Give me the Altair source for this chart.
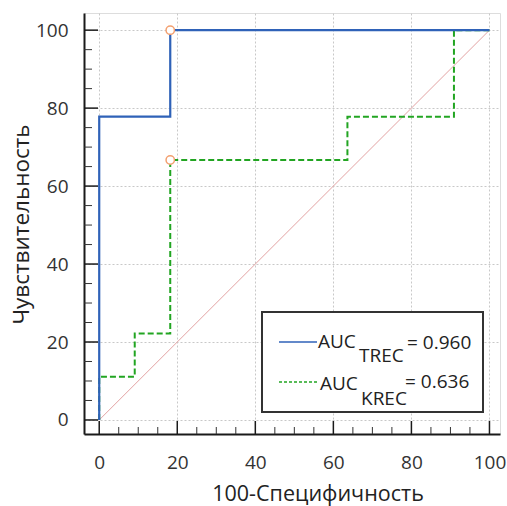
import altair as alt
import pandas as pd

# ROC data (100-specificity, sensitivity)
trec_fpr = [0, 0, 18.2, 100]
trec_tpr = [0, 77.8, 100, 100]
krec_fpr = [0, 0, 9.1, 18.2, 63.6, 90.9, 100]
krec_tpr = [0, 11.1, 22.2, 66.7, 77.8, 100, 100]
cut_fpr = [18.2, 18.2]
cut_tpr = [100, 66.7]
diag_vals = [0, 100]
major_ticks = [0, 20, 40, 60, 80, 100]
minor_ticks = [5, 10, 15, 25, 30, 35, 45, 50, 55, 65, 70, 75, 85, 90, 95]
auc_names = ["TREC", "KREC"]
auc_values = [0.960, 0.636]
x_title = "100-Специфичность"
y_title = "Чувствительность"

FONT = "Open Sans"
W, H = 416, 421

xs = alt.Scale(domain=[-3.9, 102.7], nice=False, zero=False)
ys = alt.Scale(domain=[-3.6, 104.4], nice=False, zero=False)

x_axis = alt.Axis(values=major_ticks, ticks=False, domain=True, domainColor="#1a1a1a",
                  domainWidth=2, grid=True, gridColor="#c8c8c8", gridDash=[2, 2],
                  labelFont=FONT, labelFontSize=19, labelColor="#333333", labelPadding=19,
                  titleFont=FONT, titleFontSize=21.5, titleFontWeight="normal", titleColor="#222222",
                  titleX=233.5, titleY=66, titleBaseline="alphabetic", titleAnchor="start", titleAlign="center")
y_axis = alt.Axis(values=major_ticks, ticks=False, domain=True, domainColor="#1a1a1a",
                  domainWidth=2, grid=True, gridColor="#c8c8c8", gridDash=[2, 2],
                  labelFont=FONT, labelFontSize=19, labelColor="#333333", labelPadding=16,
                  titleFont=FONT, titleFontSize=22.5, titleFontWeight="normal", titleColor="#222222",
                  titleX=-62.5, titleY=211, titleAngle=-90, titleAlign="center", titleBaseline="middle")


def X(field="x"):
    return alt.X(f"{field}:Q", scale=xs, axis=x_axis, title=x_title)


def Y(field="y"):
    return alt.Y(f"{field}:Q", scale=ys, axis=y_axis, title=y_title)


dot = pd.DataFrame({"a": [0]})

diag = alt.Chart(pd.DataFrame({"x": diag_vals, "y": diag_vals})).mark_line(
    color="#e3a3a3", strokeWidth=1).encode(x=X(), y=Y())

krec = alt.Chart(pd.DataFrame({"x": krec_fpr, "y": krec_tpr, "i": range(len(krec_fpr))})).mark_line(
    color="#22a522", strokeWidth=2, strokeDash=[6, 3], interpolate="step-after").encode(
    x=X(), y=Y(), order="i:Q")

trec = alt.Chart(pd.DataFrame({"x": trec_fpr, "y": trec_tpr, "i": range(len(trec_fpr))})).mark_line(
    color="#2f62b8", strokeWidth=2.2, interpolate="step-after").encode(x=X(), y=Y(), order="i:Q")

pts = alt.Chart(pd.DataFrame({"x": cut_fpr, "y": cut_tpr})).mark_point(
    shape="circle", size=70, filled=False, fill="white", fillOpacity=1, stroke="#f3a070",
    strokeWidth=1.5, opacity=1).encode(x=X(), y=Y())

xmaj = alt.Chart(pd.DataFrame({"x": major_ticks})).mark_rule(color="#1a1a1a", strokeWidth=1.5).encode(
    x=X(), y=alt.value(H), y2=alt.value(H - 13))
xmin = alt.Chart(pd.DataFrame({"x": minor_ticks})).mark_rule(color="#333333", strokeWidth=1).encode(
    x=X(), y=alt.value(H), y2=alt.value(H - 7))
ymaj = alt.Chart(pd.DataFrame({"y": major_ticks})).mark_rule(color="#1a1a1a", strokeWidth=1.5).encode(
    y=Y(), x=alt.value(0), x2=alt.value(14))
ymin = alt.Chart(pd.DataFrame({"y": minor_ticks})).mark_rule(color="#333333", strokeWidth=1).encode(
    y=Y(), x=alt.value(0), x2=alt.value(8))

# legend (box at pixel offsets relative to plot area origin)
box = alt.Chart(dot).mark_rect(fill="white", stroke="#333333", strokeWidth=2).encode(
    x=alt.value(178), x2=alt.value(399), y=alt.value(299), y2=alt.value(399))
leg_blue = alt.Chart(dot).mark_rule(color="#2f62b8", strokeWidth=1.5).encode(
    x=alt.value(195), x2=alt.value(233), y=alt.value(329))
leg_green = alt.Chart(dot).mark_rule(color="#22a522", strokeWidth=1.5, strokeDash=[3, 2]).encode(
    x=alt.value(195), x2=alt.value(235), y=alt.value(369))


def txt(s, x, y):
    return alt.Chart(dot).mark_text(font=FONT, fontSize=19, color="#222222", align="left",
                                    baseline="alphabetic").encode(
        x=alt.value(x), y=alt.value(y), text=alt.value(s))


legend_layers = [
    txt("AUC", 234, 335), txt(auc_names[0], 275, 349), txt(f"= {auc_values[0]:.3f}", 323, 336),
    txt("AUC", 236, 377), txt(auc_names[1], 277, 392), txt(f"= {auc_values[1]:.3f}", 321, 375),
]

chart = alt.layer(diag, krec, trec, pts, xmaj, xmin, ymaj, ymin, box, leg_blue, leg_green,
                  *legend_layers).properties(
    width=W, height=H, autosize=alt.AutoSizeParams(type="none"),
    padding={"left": 84, "top": 13, "right": 7, "bottom": 72},
).configure_view(stroke=None).configure(background="white")

chart.save("out.html", embed_options={"renderer": "svg", "actions": False})
